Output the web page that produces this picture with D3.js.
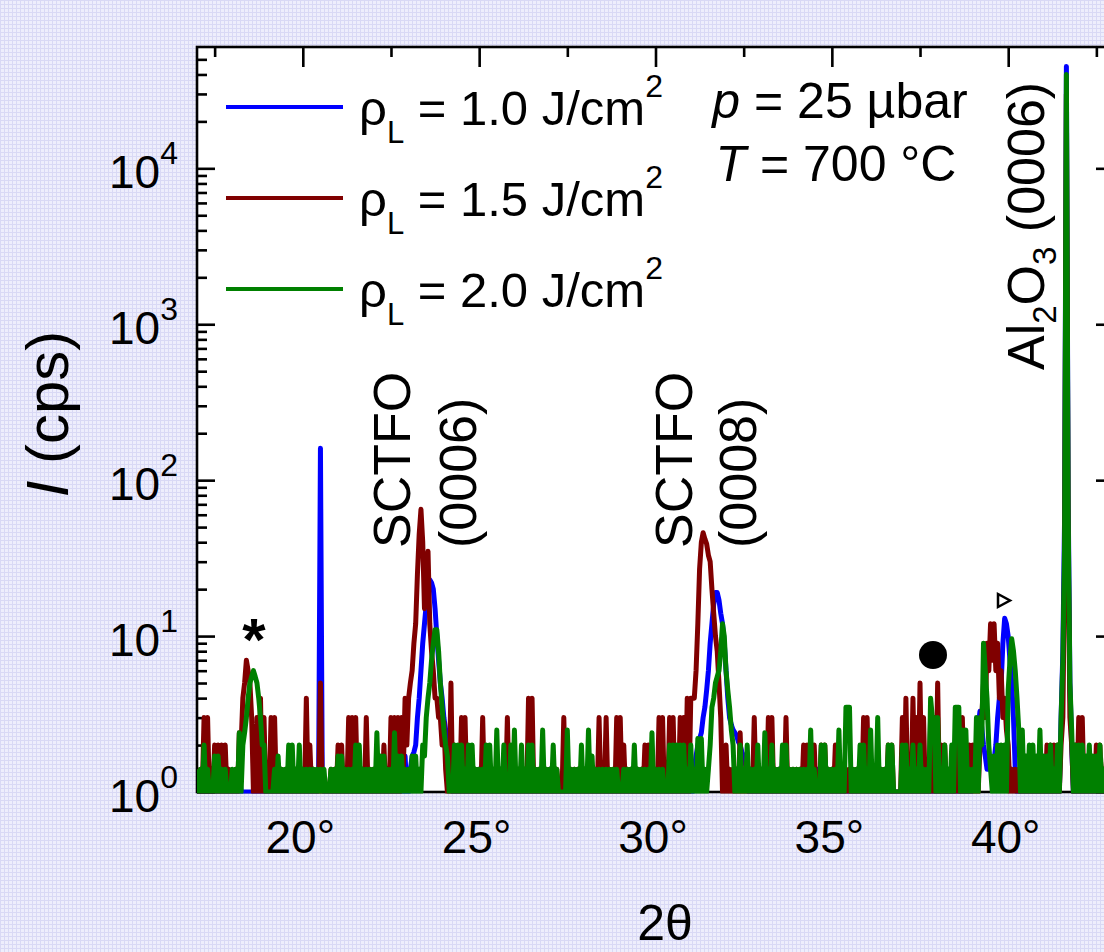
<!DOCTYPE html>
<html><head><meta charset="utf-8">
<script src="https://cdn.jsdelivr.net/npm/d3@7"></script>
<style>
html,body{margin:0;padding:0;background:#e6e6f9;}
svg{display:block;font-family:"Liberation Sans",Arial,Helvetica,sans-serif;}
</style></head><body>
<svg id="chart" width="1104" height="952"></svg>
<script>
// 2θ grid: 17.00° .. 43.00° in 0.05° steps (one row = 1°)
const thetaStart = 17.0, thetaStep = 0.05;

// ρL = 1.0 J/cm²
const blue = [
1,1,1,1,1,1,1,1,1,1,1.4,1,1,1,1,1,1,1,1,1,
1,1,1,1,1.4,1,1,1,1,1,1,1,1,1,1,1,1,1,1,1,
1.4,1,1,1,1,1,1,1,1,1,1,1,1,1,1.4,1,1,1,1,1,
1,1,1,1,1,1,1,1,1,1.4,160,1.4,1,1,1,1,1,1,1,1,
1,1,1,1,1,1,1,1,1.4,1,1,1,1,1,1,1,1,1,1,1,
1,1,1,1,1,1,1,1,1,1,1.5,1,1,1,1,1,1,1,1.7,1,
1,1.4,1.7,1.8,2,3,4,6,9,12,16,20,23,22,20,15,10,7,5,4,
3,2.5,2,1.7,1.4,1,1,1,1,1,1,1,1,1,1,1,1,1,1,1,
1.4,1,1,1,1,1,1,1,1,1,1,1,1,1,1,1,1,1,1,1,
1,1,1,1,1.4,1,1,1,1,1,1,1,1,1,1,1,1,1,1,1,
1.4,1,1,1,1,1,1,1,1,1,1,1,1,1,1,1,1,1,1,1,
1,1,1,1,1,1,1,1,1,1,1,1,1,1,1,1,1,1,1,1,
1,1,1.5,1,1,1,1,1,1,1,1,1,1,1,1,1,1,1,1,1,
1,1,1.4,1,1,1,1,1,1,1,1,1,1,1,1,1,1,1,1,1,
1,1,1.4,1.7,2,2.2,2.4,3,3.5,4.5,6,9,12,16,19,19,17,14,12,9,
6,4,3,2.7,2.5,2.4,2.3,2.1,2,1.8,1.7,1.5,1.4,1,1,1,1,1,1,1,
1,1,1,1,1,1,1,1,1,1,1.4,1,1,1,1,1,1,1,1,1,
1,1,1,1,1,1,1,1,1,1,1,1,1.4,1,1,1,1,1,1,1,
1,1,1,1,1,1,1,1,1,1,1,1,1,1,1,1,1.4,1,1,1,
1.4,1,1,1,1,1,1,1,1,1,1,1,1,1,1,1,1,1,1,1,
1,1,1,1,1.4,1,1,1,1,1,1,1,1,1,1,1,1,1,1,1,
1,1,1,1,1.4,1,1,1,1,1,1,1,1,1,1,1,1,1,1,1,
1.4,1.7,2,2.6,3.3,2.6,2,1.7,1.4,1.4,1.4,1.5,1.6,2,3,4,5,9,13,12,
10,7,5,3,1.4,1,1,1,1,1,1,1,1,1,1.4,1,1,1,1,1,
1.4,1,1,1,1,1,1,1,1,1,3,8,60,45000,80,5,2,1,1,1,
1,1,1,1,1,1,1,1,1,1,1.4,1,1,1,1,1,1,1,1,1,
1];

// ρL = 1.5 J/cm²
const red = [
1.4,1,1.4,1,3,1,3,1,1.4,1,2,1,2,1,2,1,2,1,1.4,1,
1,1,1.4,1,2.4,2,4,5,7,6,5,3,1,1,3,1,4,1,3,1,
1.4,1,3,1,3,1,1.4,1,1.4,1,1,1,1.4,1,1.4,1,1.4,1,1.4,1,
1.4,1,4,1,2,1,1.4,1,1,1,5,1,1,1,1,1,1.4,1,1.4,1,
2,1,2,1,1.4,1,3,1,3,1,3,1,1.4,1,1.4,1,3,1,1.4,1,
1.4,1,1.4,1,1.4,1,2,1,1.4,1,3,1,3,1,3,1,3,1.4,4,2,
4,5,6,9,12,25,45,65,40,15,20,35,12,8,6,4,4,3,3,2,
2.8,1.4,1,1,5,1,2,1,1.4,1,3,1,3,1,1.4,1,1.4,1,1.4,1,
1.4,1,3,1,1.4,1,1.4,1,1.4,1,1.4,1,1.4,1,1.4,1,3,1,1.4,1,
1.4,1,1.4,1,1.4,1,1.4,1,4,1,4,1,1.4,1,1.4,1,1.4,1,1.4,1,
1.4,1,1.4,1,1.4,1,1,1,3,1,1.4,1,1.4,1,1.4,1,1.4,1,1.4,1,
1.4,1,1.4,1,1.4,1,1.4,1,3,1,1.4,1,3,1,1.4,1,1.4,1,3,1,
3,1,2,1,1.4,1,1.4,1,1.4,1,1.4,1,1.4,1,2,1,2,1,1.4,1,
1.4,1,3,1,3,1,1,1,3,1,3,1,1.4,1,3,1,3,1,4,1,
4,4,4,6,12,27,40,46,42,39,33,30,20,14,10,8,5,3,1,1,
2,1,1.4,1,1.4,1,1.4,1,2.4,1,1.4,1,1.4,1,1.4,1,3,1,1.4,1,
1.4,1,1.4,1,3,1,3,1,1.4,1,1.4,1,1.4,1,3,1,1.4,1,1.4,1,
1.4,1,1.4,1,2,1,2,1,1.4,1,2,1,1,1,2,1,2,1,1.4,1,
1.4,1,2,1,1.4,1,1.4,1,1.4,1,1.4,1,1.4,1,1.4,1,1.4,1,3,1,
3,1,1.4,1,1.4,1,1.4,1,1.4,1,1.4,1,2,1,2,1,1,1,1,1,
3,1,4,1,1.4,1,4,1,3,1,5,1,3,1,1.4,1,3,1,3,1,
5,1,2,1,2,1,1.4,1,1.4,1,1.4,1,3,1,3,1,1.4,1,2,1,
2,1,1.4,1,2,3,5,3,9,6,12,7,12,6,9,4,6,3,4,2.5,
2,1,1.4,1,1.4,1,1.4,1,1.4,1,1.4,1,1.4,1,1.4,1,1.4,1,1.4,1,
1.4,1,2,1,2,1,2,1,2,1,2,3,30,30000,40,3,2,1,2,1,
3,1,3,1,1.4,1,1.4,1,1.4,1,2,1,2,1,1.4,1,2,1,2,1,
1.4];

// ρL = 2.0 J/cm²
const green = [
1.4,1,1.4,1,2,1,1.4,1,1,1,1.7,1,1.7,1,1.4,1,1.4,1,1,1,
1.4,1,1.4,1,2.4,1,2,2.4,3,4,5,5.5,6,5.5,5,4,3,2,2,1,
1,1,1,1,1.4,1,1.7,1,1.4,1,1.4,1,2,1,2,1,1.4,1,2,1,
1.4,1,1.4,1,1.4,1,1.4,1,1.4,1,1.4,1,1.4,1,1,1,1.4,1,1.4,1,
1.7,1,1.7,1,1.4,1,1.4,1,1.4,1,2,1,2,1,1.4,1,1.4,1,1.4,1,
1.4,1,2.4,1,1.7,1,1.7,1,1.4,1,1.4,1,2.4,1,1.7,1,1.7,1,1.4,1,
1.4,1,1.7,1,1.7,1,1.4,1,2,1.7,3,4,5,7,9,11,11,8,5,3.5,
2.5,2,1.7,1,1,1,2,1,2,1,2,1,1.4,1,2,1,2,1,1.4,1,
1.4,1,1.4,1,2,1,2,1,1.4,1,2.5,1,1.4,1,2,1,1,1,2,1,
2.5,1,1.4,1,2,1,1.4,1,2,1,2,1,1.4,1,1.4,1,2.5,1,1.4,1,
1.4,1,2,1,1.4,1,1,1,1,1,2.5,1,1.4,1,1.4,1,1.4,1,2,1,
1.4,1,2.5,1,1.7,1,1.4,1,1.4,1,1.4,1,1.4,1,1.4,1,1.4,1,1.4,1,
1,1,1.4,1,1.4,1,1.4,1,2,1,1.4,1,1.4,1,1.4,1,1.4,1,2.4,1,
1.4,1,1.4,1,1.4,1,1,1,2,1,2,1,2,1,2,1,2,1,1.4,1,
2,1,1.4,1,2.2,1,2.2,1,1.4,1,1.4,2,3.5,4,5,5.5,6,8,12,10,
6,4.5,3.5,2.5,2,1,1.4,1,2,1,1.4,1,2,1,1.4,1,1.4,1,2,1,
1.4,1,2.4,1,1.4,1,2,1,1.4,1,1.4,1,2,1,2,1,1.4,1,1.4,1,
1.4,1,1.4,1,1.4,1,1.4,1,2.5,1,1.4,1,1,1,2,1,2,1,1.4,1,
1.4,1,1.4,1,2.5,1,1.4,1,3.5,3.5,3.5,1,1.4,1,1.4,1,2,1,2,1,
1.4,1,2.5,1,1.4,1,3,1,1.4,1,1.4,1,2,1,2,1,1,1,1,1,
2,1,2,1,1.4,1,2,1,1.4,1,2,1,1.4,1,1.4,1,4,3,3,1,
3,1,1.4,1,2,1,1.4,1,2,1,3.5,3.5,3.5,1,2.5,1,2.5,1,1.4,1,
1.4,1,3,1,3,2,9,6,4,2,1.4,1,1.7,1,2,1,2,1,2,1,
4.5,7,9.6,8,6,4,2.5,1,2.5,1,1.7,1,2,1,2,1,1.7,1,2.5,1,
1.7,1,1.7,1,2,1,1.4,1,2,1,3,7,40,40000,60,5,2.5,1,2,1,
2,1,2,1,1.7,1,2,1,1.7,1,1.7,1,2,1,1.4,1,2,1,1.4,1,
1.4];

const seriesLabels = ["1.0", "1.5", "2.0"];
const seriesColors = ["#0000ff", "#800000", "#008000"];
const xTicks = [20, 25, 30, 35, 40];
const xMinorTicks = [17.5, 22.5, 27.5, 32.5, 37.5, 42.5];
const yTicks = [1, 10, 100, 1000, 10000];
const yMinorTicks = [2,3,4,5,6,7,8,9,20,30,40,50,60,70,80,90,200,300,400,500,600,700,800,900,
  2000,3000,4000,5000,6000,7000,8000,9000,20000,30000,40000,50000];

const svg = d3.select("#chart");
const L = 197, R = 1114, T = 47, B = 792;
const x = d3.scaleLinear().domain([17, 43]).range([L, R]);
const y = d3.scaleLog().domain([1, 60000]).range([B, T]);

// background pattern
const defs = svg.append("defs");
const pat = defs.append("pattern").attr("id","bgp").attr("width",4).attr("height",4).attr("patternUnits","userSpaceOnUse");
pat.append("rect").attr("width",4).attr("height",4).attr("fill","#eeeefc");
pat.append("path").attr("d","M0 0.5H4M0.5 0V4").attr("stroke","#d9d9f5").attr("stroke-width",1);
svg.append("rect").attr("width",1104).attr("height",952).attr("fill","url(#bgp)");
defs.append("clipPath").attr("id","plotclip").append("rect").attr("x",L).attr("y",T).attr("width",R-L).attr("height",B-T+1.5);

// plot area
svg.append("rect").attr("x",L).attr("y",T).attr("width",R-L).attr("height",B-T).attr("fill","#fff");

function styleTicks(g){ g.select(".domain").remove(); g.selectAll(".tick line").attr("stroke","#000").attr("stroke-width",2.6); }

svg.append("g").attr("transform",`translate(0,${T})`).call(d3.axisTop(x).tickValues(xTicks).tickSize(-20).tickFormat("")).call(styleTicks);
svg.append("g").attr("transform",`translate(0,${T})`).call(d3.axisTop(x).tickValues(xMinorTicks).tickSize(-10).tickFormat("")).call(styleTicks);
svg.append("g").attr("transform",`translate(0,${B})`).call(d3.axisBottom(x).tickValues(xMinorTicks).tickSize(-10).tickFormat("")).call(styleTicks);
const xAxisG = svg.append("g").attr("transform",`translate(0,${B})`)
  .call(d3.axisBottom(x).tickValues(xTicks).tickSize(-20).tickFormat(d => d + "°")).call(styleTicks);
xAxisG.attr("font-size",46).attr("font-family",null);
xAxisG.selectAll(".tick text").attr("fill","#000").attr("y",61).attr("dy",0).attr("x",-3);

svg.append("g").attr("transform",`translate(${L},0)`).call(d3.axisLeft(y).tickValues(yMinorTicks).tickSize(-10).tickFormat("")).call(styleTicks);
svg.append("g").attr("transform",`translate(${R},0)`).call(d3.axisRight(y).tickValues(yMinorTicks).tickSize(-10).tickFormat("")).call(styleTicks);
svg.append("g").attr("transform",`translate(${R},0)`).call(d3.axisRight(y).tickValues(yTicks).tickSize(-18).tickFormat("")).call(styleTicks);
const yAxisG = svg.append("g").attr("transform",`translate(${L},0)`)
  .call(d3.axisLeft(y).tickValues(yTicks).tickSize(-18).tickPadding(19).tickFormat(d => String(Math.round(Math.log10(d))))).call(styleTicks);
yAxisG.attr("font-size",46).attr("font-family",null);
yAxisG.selectAll(".tick text").each(function(){
  const t = d3.select(this); const e = t.text();
  t.text(null).attr("fill","#000").attr("dy",19);
  t.append("tspan").text("10");
  t.append("tspan").attr("font-size",32).attr("dy",-24).text(e);
});

// frame
svg.append("rect").attr("x",L).attr("y",T).attr("width",R-L).attr("height",B-T).attr("fill","none").attr("stroke","#000").attr("stroke-width",2.6);

// data
const line = d3.line().x((d,i) => x(thetaStart + thetaStep*i)).y(d => y(Math.max(d,1)));
const plot = svg.append("g").attr("clip-path","url(#plotclip)");
[blue, red, green].forEach((s,k) => {
  plot.append("path").attr("d", line(s)).attr("fill","none").attr("stroke",seriesColors[k])
    .attr("stroke-width",5).attr("stroke-linejoin","round").attr("stroke-linecap","butt");
});

// legend
const legendY = [107, 198, 289];
seriesLabels.forEach((lab,k) => {
  svg.append("line").attr("x1",226).attr("x2",343).attr("y1",legendY[k]).attr("y2",legendY[k])
    .attr("stroke",seriesColors[k]).attr("stroke-width",4);
  const t = svg.append("text").attr("x",359).attr("y",legendY[k]+18).attr("font-size",49).attr("fill","#000");
  t.append("tspan").text("ρ");
  t.append("tspan").attr("font-size",31).attr("dy",18).text("L");
  t.append("tspan").attr("dy",-18).text(" = " + lab + " J/cm");
  t.append("tspan").attr("font-size",32).attr("dy",-28).text("2");
});

// conditions
const c1 = svg.append("text").attr("x",840).attr("y",118).attr("text-anchor","middle").attr("font-size",50);
c1.append("tspan").attr("font-style","italic").text("p");
c1.append("tspan").text(" = 25 µbar");
const c2 = svg.append("text").attr("x",836).attr("y",181).attr("text-anchor","middle").attr("font-size",50);
c2.append("tspan").attr("font-style","italic").text("T");
c2.append("tspan").text(" = 700 °C");

// peak labels (rotated)
function vlabel(bx, by, parts){
  const t = svg.append("text").attr("transform",`translate(${bx},${by}) rotate(-90)`).attr("font-size",52);
  parts.forEach(p => { const s = t.append("tspan").text(p.t); if(p.fs) s.attr("font-size",p.fs); if(p.dy) s.attr("dy",p.dy); });
  return t;
}
vlabel(410, 548, [{t:"SCTFO"}]);
vlabel(476, 548, [{t:"(0006)"}]);
vlabel(692, 548, [{t:"SCTFO"}]);
vlabel(756, 548, [{t:"(0008)"}]);
vlabel(1044, 370, [{t:"Al"},{t:"2",fs:33,dy:12},{t:"O",dy:-12},{t:"3",fs:33,dy:12},{t:" (0006)",dy:-12}]);

// y title
const yt = svg.append("text").attr("transform","translate(68,414) rotate(-90)").attr("text-anchor","middle").attr("font-size",60);
yt.append("tspan").attr("font-style","italic").text("I");
yt.append("tspan").text(" (cps)");
// x title
svg.append("text").attr("x",665).attr("y",940).attr("text-anchor","middle").attr("font-size",50).text("2θ");

// markers
svg.append("text").attr("x",254).attr("y",660).attr("text-anchor","middle").attr("font-size",60).attr("font-weight","bold").text("*");
svg.append("circle").attr("cx",933).attr("cy",655).attr("r",14).attr("fill","#000");
svg.append("path").attr("d","M998,594 L998,607 L1010,600.5 Z").attr("fill","#fff").attr("stroke","#000").attr("stroke-width",2.5);
</script>
</body></html>
